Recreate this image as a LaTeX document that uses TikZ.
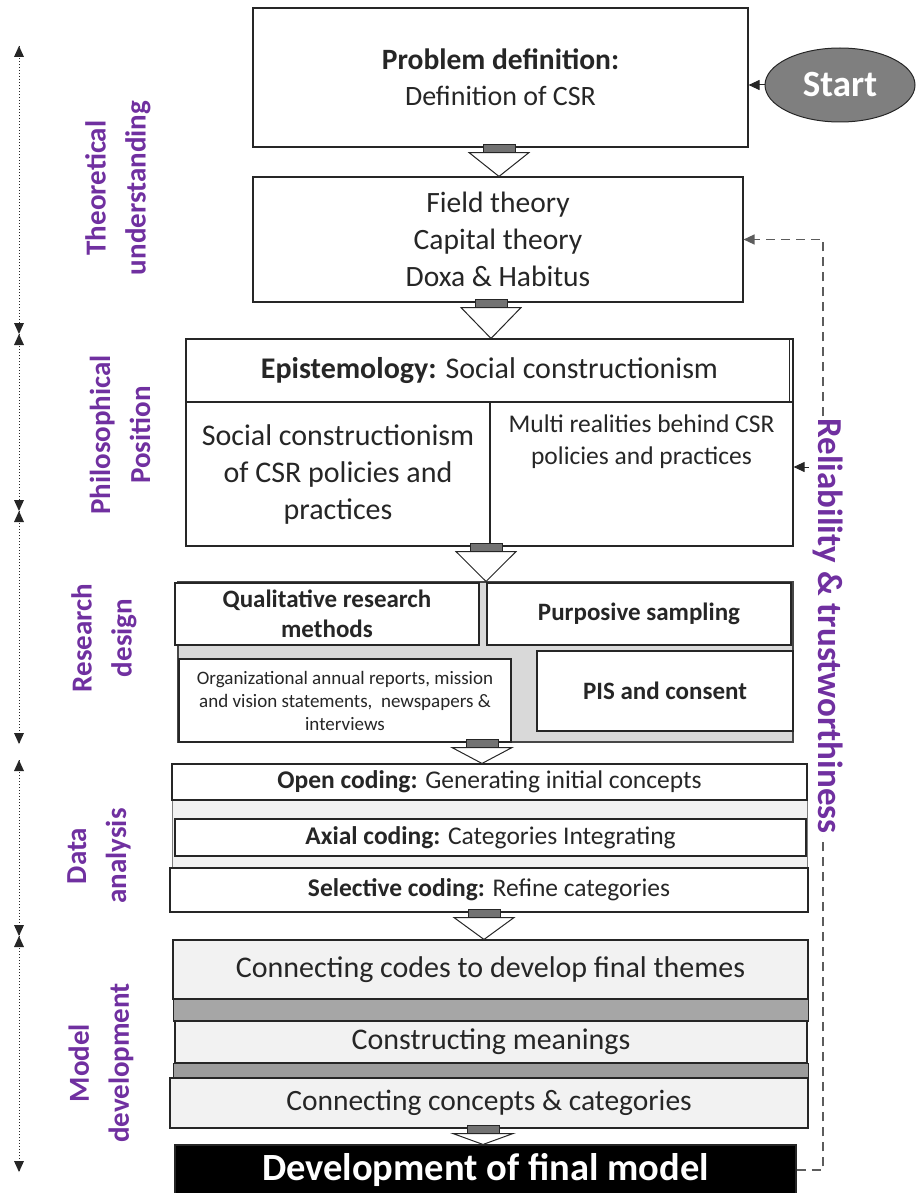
\documentclass[tikz,border=0pt]{standalone}
\usepackage{fontspec}
\setmainfont{Carlito}
\usetikzlibrary{arrows.meta,calc,shapes.geometric}
\definecolor{purp}{HTML}{7030A0}
\definecolor{ink}{HTML}{262626}
\definecolor{paleg}{HTML}{F2F2F2}
\definecolor{midg}{HTML}{D9D9D9}
\definecolor{bandg}{HTML}{A6A6A6}
\definecolor{bandh}{HTML}{9C9C9C}
\definecolor{startg}{HTML}{7F7F7F}
\newcommand\fs[2]{\fontsize{#1}{#2}\selectfont}
% hollow block arrow between two stacked boxes, at horizontal position #3
\newcommand\flowarrow[3]{%
  \draw[line width=1pt, draw=ink, fill=ink!65] let \p1=(#1.south) in
    ({#3pt-16pt},{\y1+3pt}) rectangle ({#3pt+16pt},{\y1-5pt});
  \draw[line width=1pt, draw=ink, fill=white] let \p1=(#1.south), \p2=(#2.north) in
    ({#3pt-30pt},{\y1-5pt}) -- ({#3pt+30pt},{\y1-5pt}) -- (#3pt,\y2) -- cycle;}
\begin{document}
\begin{tikzpicture}[x=1pt,y=-1pt,
  box/.style={draw=ink, line width=1.1pt, fill=white, inner sep=0pt, align=center, text=ink},
  sect/.style={rotate=90, text=purp, font=\bfseries\fs{29}{40}, align=center},
  axis/.style={dotted, line width=1pt, draw=ink},
  tip/.style={-{Triangle[length=11pt,width=10pt]}}]
\useasboundingbox (0,0) rectangle (917,1193);

% ---------- stage boxes ----------
\node[box, minimum width=495pt, minimum height=139pt, font=\fs{28}{36}] (pdef) at (500.5,77.5)
  {{\fs{29.5}{36}\textbf{Problem definition:}}\\Definition of CSR};
\node[box, minimum width=490pt, minimum height=125pt, font=\fs{29.5}{37}] (theory) at (498,239.5)
  {Field theory\\Capital theory\\Doxa \& Habitus};

% philosophical position
\node[box, minimum width=607pt, minimum height=63pt, font=\fs{30}{36}] (epi) at (489.5,370.5)
  {\textbf{Epistemology:} Social constructionism};
\draw[ink, line width=1.1pt] ($(epi.north east)+(-4,0)$) -- ($(epi.south east)+(-4,0)$);
\node[box, minimum width=304pt, minimum height=144pt, font=\fs{30}{37}] (soc) at (338,474)
  {Social constructionism\\of CSR policies and\\practices};
\node[box, minimum width=303pt, minimum height=144pt] (multi) at (641.5,474) {};
\node[text=ink, align=center, font=\fs{25.5}{32}] (multitxt) at (641.5,442)
  {Multi realities behind CSR\\policies and practices};

% research design
\node[draw=ink!85, line width=1.1pt, fill=midg, minimum width=615pt, minimum height=160pt] (rd) at (485.5,662) {};
\node[box, minimum width=304pt, minimum height=62pt, font=\bfseries\fs{25}{30}] (qual) at (327,614)
  {Qualitative research\\methods};
\node[box, minimum width=304pt, minimum height=62pt, font=\bfseries\fs{25}{30}] (purp) at (639,614)
  {Purposive sampling};
\node[box, minimum width=332pt, minimum height=83pt, font=\fs{19}{23}] (org) at (345,700.5)
  {Organizational annual reports, mission\\and vision statements,\ \ newspapers \&\\interviews};
\node[box, minimum width=256pt, minimum height=80pt, font=\bfseries\fs{25}{30}] (pis) at (665,691)
  {PIS and consent};

% data analysis
\node[draw=ink!60, line width=1pt, fill=paleg, minimum width=635pt, minimum height=148pt] (da) at (489.5,838) {};
\node[box, minimum width=635pt, minimum height=36pt, font=\fs{25.5}{30}] (open) at (489.5,782)
  {\textbf{Open coding:} Generating initial concepts};
\node[box, line width=2pt, minimum width=631pt, minimum height=37pt, font=\fs{25.5}{30}] (axial) at (490.5,837.5)
  {\textbf{Axial coding:} Categories Integrating};
\node[box, minimum width=638pt, minimum height=44pt, font=\fs{25.5}{30}] (sel) at (489,890)
  {\textbf{Selective coding:} Refine categories};

% model development
\node[draw=ink, line width=1pt, fill=bandg, minimum width=635pt, minimum height=22pt] (band1) at (490.5,1010) {};
\node[draw=ink, line width=1pt, fill=bandh, minimum width=635pt, minimum height=15pt] (band2) at (490.5,1070.5) {};
\node[box, fill=paleg, minimum width=635pt, minimum height=59pt, font=\fs{30}{36}] (codes) at (490.5,969.5)
  {Connecting codes to develop final themes};
\node[box, fill=paleg, line width=2pt, minimum width=632pt, minimum height=42pt, font=\fs{30}{36}] (meanings) at (491,1042)
  {Constructing meanings};
\node[box, fill=paleg, minimum width=638pt, minimum height=50pt, font=\fs{29.5}{36}] (concepts) at (489,1103)
  {Connecting concepts \& categories};
\node[box, fill=black, text=white, minimum width=621pt, minimum height=50pt, font=\bfseries\fs{38.5}{40}] (final) at (485.5,1170)
  {Development of final model};

% ---------- flow arrows ----------
\flowarrow{pdef}{theory}{499}
\flowarrow{theory}{epi}{491}
\flowarrow{soc}{rd}{486}
\flowarrow{rd}{open}{482}
\flowarrow{sel}{codes}{484}
\flowarrow{concepts}{final}{483}

% ---------- start ----------
\node[ellipse, draw=ink, line width=1pt, fill=startg, text=white, minimum width=150pt, minimum height=74pt,
  font=\bfseries\fs{37}{40}] (start) at (840,85) {Start};
\draw[ink, line width=1pt, tip] (start.west) -- (start.west -| pdef.east);

% ---------- feedback loop ----------
\coordinate (fb) at (823,0);
\draw[dashed, dash pattern=on 9pt off 6pt, line width=1.3pt, draw=ink!75, tip]
  (final.east) -- (final.east -| fb) -- (fb |- theory.east) -- (theory.east);
\coordinate (fbm) at (809,467);
\draw[ink, line width=1pt, tip] (fbm) -- (fbm -| multi.east);
\node[rotate=-90, fill=white, text=purp, font=\bfseries\fs{35}{38}, inner sep=2pt] (rel) at (828,626)
  {Reliability \& trustworthiness};

% ---------- stage axis ----------
\coordinate (ax0) at (19,46);
\coordinate (ax1) at (19,334);
\coordinate (ax2) at (19,511);
\coordinate (ax3) at (19,744);
\coordinate (ax4) at (19,760);
\coordinate (ax5) at (19,936);
\coordinate (ax6) at (19,1172);
% each span: dotted line with a solid triangular head at both ends
\foreach \a/\b in {ax0/ax1, ax1/ax2, ax2/ax3, ax4/ax5, ax5/ax6}{
  \draw[axis] (\a) -- (\b);
  \fill[ink] (\a) -- ($(\a)+(-5,11)$) -- ($(\a)+(5,11)$) -- cycle;
  \fill[ink] (\b) -- ($(\b)+(-5,-11)$) -- ($(\b)+(5,-11)$) -- cycle;
}

\node[sect] (s1) at (118,188) {Theoretical\\understanding};
\node[sect] (s2) at (120,435) {Philosophical\\Position};
\node[sect] (s3) at (104,638) {Research\\design};
\node[sect] (s4) at (99,856) {Data\\analysis};
\node[sect] (s5) at (101,1063) {Model\\development};
\end{tikzpicture}
\end{document}
